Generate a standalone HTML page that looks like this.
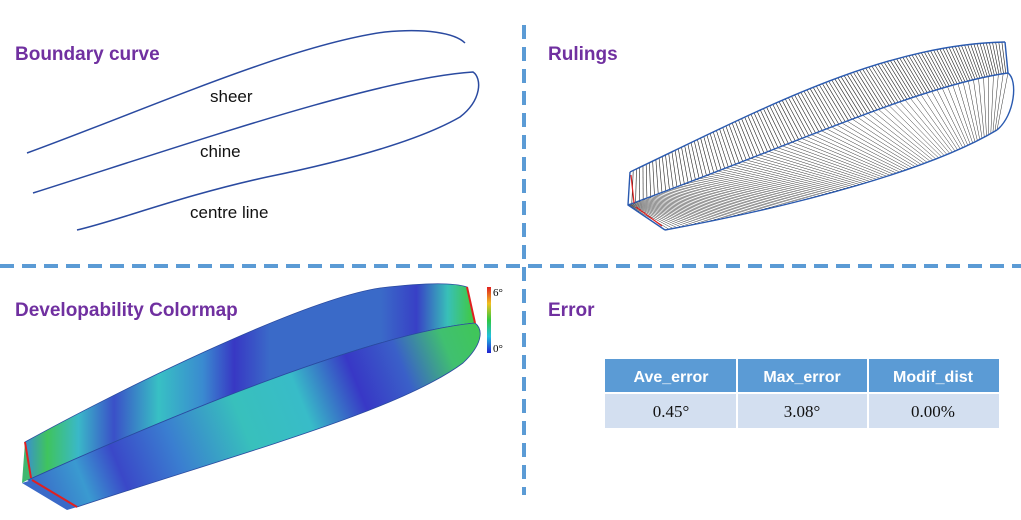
<!DOCTYPE html>
<html><head><meta charset="utf-8"><style>
html,body{margin:0;padding:0;background:#fff;width:1021px;height:520px;overflow:hidden}
svg{display:block}
.title{font-family:"Liberation Sans",sans-serif;font-weight:bold;font-size:19px;fill:#7030a0}
.lbl{font-family:"Liberation Sans",sans-serif;font-size:17px;fill:#111}
</style></head><body>
<svg width="1021" height="520" viewBox="0 0 1021 520" xmlns="http://www.w3.org/2000/svg">
<defs>
<linearGradient id="gTop" x1="25" x2="470" y1="0" y2="0" gradientUnits="userSpaceOnUse">
<stop offset="0" stop-color="#3a8fd0"/><stop offset="0.05" stop-color="#3fc45e"/><stop offset="0.12" stop-color="#3ab8c8"/>
<stop offset="0.2" stop-color="#3a50c8"/><stop offset="0.3" stop-color="#38c0c4"/><stop offset="0.4" stop-color="#3a8ad0"/>
<stop offset="0.47" stop-color="#3838c4"/><stop offset="0.55" stop-color="#3a6ac8"/><stop offset="0.8" stop-color="#3a6ac8"/>
<stop offset="0.88" stop-color="#3840c6"/><stop offset="0.95" stop-color="#38c0b8"/><stop offset="1" stop-color="#40c850"/>
</linearGradient>
<linearGradient id="gLow" x1="30" x2="480" y1="480" y2="300" gradientUnits="userSpaceOnUse">
<stop offset="0" stop-color="#3a6ac8"/><stop offset="0.1" stop-color="#3a9ad0"/><stop offset="0.18" stop-color="#3a48c8"/>
<stop offset="0.3" stop-color="#3a7ed0"/><stop offset="0.45" stop-color="#38c0bc"/><stop offset="0.58" stop-color="#38bcc8"/>
<stop offset="0.7" stop-color="#3838c6"/><stop offset="0.8" stop-color="#3a60c8"/><stop offset="0.9" stop-color="#40c070"/><stop offset="1" stop-color="#40c850"/>
</linearGradient>
<linearGradient id="gBar" x1="0" x2="0" y1="0" y2="1">
<stop offset="0" stop-color="#e02020"/><stop offset="0.25" stop-color="#f0c020"/><stop offset="0.5" stop-color="#30c840"/>
<stop offset="0.75" stop-color="#20c0e0"/><stop offset="1" stop-color="#2020d0"/>
</linearGradient>
</defs>

<g stroke="#5b9bd5" stroke-width="4" stroke-dasharray="14 8">
<line x1="524" y1="25" x2="524" y2="495"/>
<line x1="0" y1="266" x2="1021" y2="266"/>
</g>

<text class="title" x="15" y="60">Boundary curve</text>
<text class="title" x="548" y="60">Rulings</text>
<text class="title" x="15" y="316">Developability Colormap</text>
<text class="title" x="548" y="316">Error</text>

<g fill="none" stroke="#2a4aa0" stroke-width="1.5">
<path d="M27,153 C150,108 290,45 385,32 C425,28 455,33 465,43"/>
<path d="M33,193 C200,140 380,78 473,72 C482,78 482,100 460,117 C420,140 350,160 267,177 C180,196 120,220 77,230"/>
</g>
<text class="lbl" x="210" y="102">sheer</text>
<text class="lbl" x="200" y="157">chine</text>
<text class="lbl" x="190" y="218">centre line</text>

<g id="rulings"></g>

<g>
<path fill="url(#gTop)" stroke="#2a4aa0" stroke-width="0.8" d="M25,442 C110,395 300,300 380,288 C430,282 455,283 467,287 L475,323 C400,330 250,380 28,480 Z"/>
<path fill="url(#gLow)" stroke="#2a4aa0" stroke-width="0.8" d="M28,480 C250,380 400,330 475,323 C484,330 482,345 463,363 C400,410 250,450 77,507 Z"/>
<path fill="#3fb870" d="M25,442 L31,478 L22,483 Z"/>
<path fill="#3a6ac8" d="M22,483 L32,480 L77,507 L67,510 Z"/>
<g stroke="#e02020" stroke-width="2">
<line x1="25" y1="442" x2="31" y2="478"/>
<line x1="32" y1="480" x2="77" y2="507"/>
<line x1="467" y1="287" x2="475" y2="323"/>
</g>
<rect x="487" y="287" width="4" height="66" fill="url(#gBar)"/>
<text x="493" y="296" font-family="Liberation Serif,serif" font-size="11">6°</text>
<text x="493" y="352" font-family="Liberation Serif,serif" font-size="11">0°</text>
</g>

<g>
<rect x="605" y="359" width="394" height="33" fill="#5b9bd5"/>
<rect x="605" y="394" width="394" height="34" fill="#d3dff0"/>
<g stroke="#fff" stroke-width="2">
<line x1="737" y1="359" x2="737" y2="428"/><line x1="868" y1="359" x2="868" y2="428"/>
<line x1="605" y1="393" x2="999" y2="393"/>
</g>
<g font-family="Liberation Sans,sans-serif" font-weight="bold" font-size="16" fill="#fff" text-anchor="middle">
<text x="671" y="382">Ave_error</text>
<text x="802" y="382">Max_error</text>
<text x="933" y="382">Modif_dist</text>
</g>
<g font-family="Liberation Serif,serif" font-size="17" fill="#111" text-anchor="middle">
<text x="671" y="417">0.45°</text>
<text x="802" y="417">3.08°</text>
<text x="933" y="417">0.00%</text>
</g>
</g>
</svg>
<script>
function bez(p,t){var u=1-t;return[u*u*u*p[0][0]+3*u*u*t*p[1][0]+3*u*t*t*p[2][0]+t*t*t*p[3][0],u*u*u*p[0][1]+3*u*u*t*p[1][1]+3*u*t*t*p[2][1]+t*t*t*p[3][1]];}
var T=[[630,172],[760,110],[880,45],[1005,42]];
var C=[[628,205],[780,150],[920,85],[1008,73]];
var B=[[665,230],[800,205],[930,170],[997,130]];
var g=document.getElementById('rulings');var ns='http://www.w3.org/2000/svg';
function ln(a,b,col,w,name){var l=document.createElementNS(ns,'line');l.setAttribute('x1',a[0]);l.setAttribute('y1',a[1]);l.setAttribute('x2',b[0]);l.setAttribute('y2',b[1]);l.setAttribute('stroke',col);l.setAttribute('stroke-width',w);


g.appendChild(l);}
for(var i=0;i<=120;i++){var t=i/120;ln(bez(T,t),bez(C,t),'#222',0.6,'ruling-line');}
for(var i=0;i<=100;i++){var t=i/100;var u=Math.pow(t,1.8);ln(bez(B,t),bez(C,u),'#333',0.5,'ruling-line');}
function pth(d,name){var p=document.createElementNS(ns,'path');p.setAttribute('d',d);p.setAttribute('fill','none');p.setAttribute('stroke','#2a5ab0');p.setAttribute('stroke-width','1.4');


g.appendChild(p);}
pth('M630,172 C760,110 880,45 1005,42','rulings-top-edge');
pth('M628,205 C780,150 920,85 1008,73 C1018,80 1015,115 997,130','rulings-chine-edge');
pth('M665,230 C800,205 930,170 997,130','rulings-bottom-edge');
pth('M630,172 L628,205 L665,230','rulings-end-edge');
pth('M1005,42 L1008,73','rulings-right-edge');
ln([631,175],[634,203],'#e02020',1.2,'red-ruling');
ln([636,207],[662,226],'#e02020',1.2,'red-ruling');
</script>
</body></html>
